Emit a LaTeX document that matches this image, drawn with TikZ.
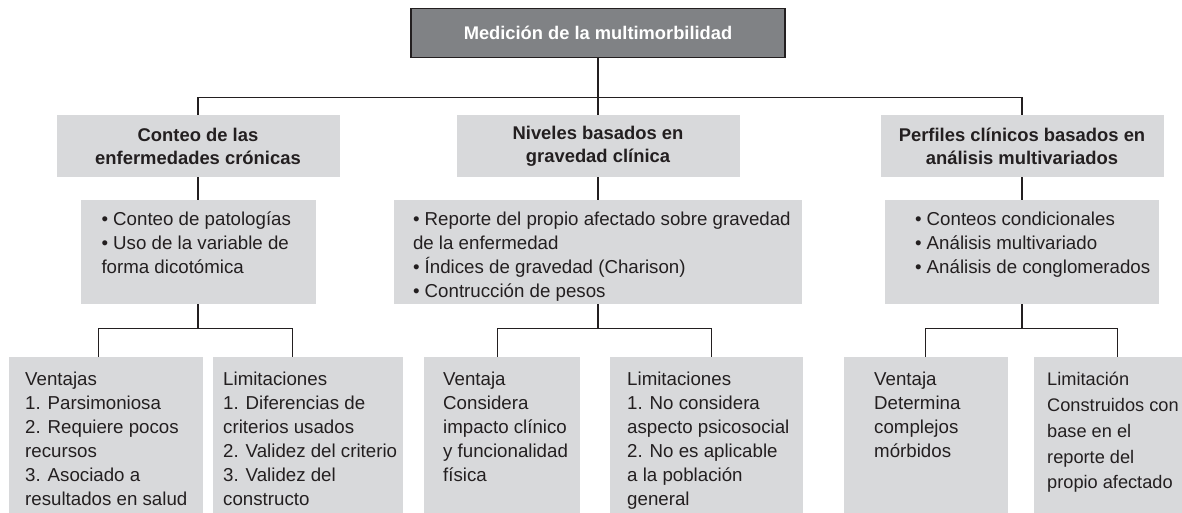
\documentclass[tikz,border=0pt]{standalone}
\usepackage{fontspec}
\setmainfont{Liberation Sans}
\usetikzlibrary{calc}
\definecolor{boxgray}{RGB}{216,217,219}
\definecolor{titlegray}{RGB}{128,130,133}
\definecolor{inkgray}{RGB}{35,31,32}
\tikzset{
  box/.style={
    fill=boxgray,
    inner sep=0pt
  },
  box-title/.style={
    box,
    fill=titlegray,
    draw=inkgray,
    line width=1.2pt,
    text=white,
    font=\bfseries\fontsize{18.3}{23}\selectfont,
    minimum width=374pt,
    minimum height=49pt,
    anchor=north
  },
  box-head/.style={
    box,
    text=inkgray,
    align=center,
    font=\bfseries\fontsize{18.4}{23}\selectfont,
    minimum width=283pt,
    minimum height=62pt,
    anchor=north
  },
  box-desc/.style={box, minimum height=104pt, anchor=north},
  box-eval/.style={box, minimum height=156pt, anchor=north west},
  cell-text/.style={
    anchor=north west,
    inner sep=0pt,
    align=left,
    text=inkgray,
    font=\fontsize{18.7}{24}\selectfont
  },
  link/.style={draw=inkgray, line width=1.2pt}
}

\begin{document}
\begin{tikzpicture}[x=1pt,y=-1pt]
  \useasboundingbox (0,0) rectangle (1182,513);

  % title and the three approaches
  \node[box-title] (title) at (598,8) {Medición de la multimorbilidad};
  \node[box-head] (conteo) at (198,115) {Conteo de las\\enfermedades crónicas};
  \node[box-head] (niveles) at (598,115) {Niveles basados en\\gravedad clínica};
  \node[box-head] (perfiles) at (1022,115) {Perfiles clínicos basados en\\análisis multivariados};

  % descriptions
  \node[box-desc, minimum width=235pt] (conteo-desc) at (198,200) {};
  \node[box-desc, minimum width=408pt] (niveles-desc) at (598,200) {};
  \node[box-desc, minimum width=274pt] (perfiles-desc) at (1022,200) {};
  \node[cell-text] (conteo-desc-txt) at ([shift={(21,12)}]conteo-desc.north west)
    {• Conteo de patologías\\• Uso de la variable de\\forma dicotómica};
  \node[cell-text] (niveles-desc-txt) at ([shift={(19,12)}]niveles-desc.north west)
    {• Reporte del propio afectado sobre gravedad\\de la enfermedad\\• Índices de gravedad (Charison)\\• Contrucción de pesos};
  \node[cell-text] (perfiles-desc-txt) at ([shift={(30,12)}]perfiles-desc.north west)
    {• Conteos condicionales\\• Análisis multivariado\\• Análisis de conglomerados};

  % advantages / limitations
  \node[box-eval, minimum width=194pt] (conteo-pro) at (9,357) {};
  \node[box-eval, minimum width=190pt] (conteo-contra) at (213,357) {};
  \node[box-eval, minimum width=156pt] (niveles-pro) at (424,357) {};
  \node[box-eval, minimum width=193pt] (niveles-contra) at (610,357) {};
  \node[box-eval, minimum width=164pt] (perfiles-pro) at (844,357) {};
  \node[box-eval, minimum width=160pt] (perfiles-contra) at (1034,357) {};

  \node[cell-text] (conteo-pro-txt) at ([shift={(16,15)}]conteo-pro.north west)
    {Ventajas\\1. Parsimoniosa\\2. Requiere pocos\\recursos\\3. Asociado a\\resultados en salud};
  \node[cell-text] (conteo-contra-txt) at ([shift={(10,15)}]conteo-contra.north west)
    {Limitaciones\\1. Diferencias de\\criterios usados\\2. Validez del criterio\\3. Validez del\\constructo};
  \node[cell-text] (niveles-pro-txt) at ([shift={(19,15)}]niveles-pro.north west)
    {Ventaja\\Considera\\impacto clínico\\y funcionalidad\\física};
  \node[cell-text] (niveles-contra-txt) at ([shift={(17,15)}]niveles-contra.north west)
    {Limitaciones\\1. No considera\\aspecto psicosocial\\2. No es aplicable\\a la población\\general};
  \node[cell-text] (perfiles-pro-txt) at ([shift={(30,15)}]perfiles-pro.north west)
    {Ventaja\\Determina\\complejos\\mórbidos};
  \node[cell-text, font=\fontsize{18.2}{25.8}\selectfont] (perfiles-contra-txt)
    at ([shift={(13,15)}]perfiles-contra.north west)
    {Limitación\\Construidos con\\base en el\\reporte del\\propio afectado};

  % connectors
  \coordinate (split-top) at ($(title.south)+(0,39)$);
  \draw[link] (title.south) -- (niveles.north);
  \draw[link] (conteo.north) |- (split-top) -| (perfiles.north);
  \foreach \n in {conteo,niveles,perfiles}{
    \draw[link] (\n.south) -- (\n-desc.north);
    \draw[link] (\n-desc.south) -- ++(0,24) coordinate (split-\n);
  }
  \draw[link] ([xshift=-8pt]conteo-pro.north) |- (split-conteo) -| ([xshift=-16pt]conteo-contra.north);
  \draw[link] ([xshift=-5pt]niveles-pro.north) |- (split-niveles) -| ([xshift=4.5pt]niveles-contra.north);
  \draw[link] ([xshift=-1pt]perfiles-pro.north) |- (split-perfiles) -| ([xshift=3pt]perfiles-contra.north);
\end{tikzpicture}
\end{document}
